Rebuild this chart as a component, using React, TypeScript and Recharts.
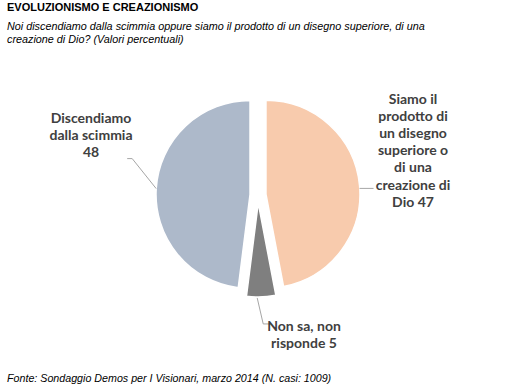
import React from 'react';
import { PieChart, Pie, Cell, Sector } from 'recharts';

const categories = [
  'Siamo il prodotto di un disegno superiore o di una creazione di Dio',
  'Non sa, non risponde',
  'Discendiamo dalla scimmia',
];
const values = [47, 5, 48];
const colors = ['#F8CBAD', '#7F7F7F', '#ADB9CA'];
const labelLines = [
  ['Siamo il', 'prodotto di', 'un disegno', 'superiore o', 'di una', 'creazione di', 'Dio 47'],
  ['Non sa, non', 'risponde 5'],
  ['Discendiamo', 'dalla scimmia', '48'],
];

const data = categories.map((name, i) => ({ name, value: values[i] }));

const RAD = Math.PI / 180;
const EXPLODE = 8;
const CX = 258;
const CY = 195;
const R = 94;
const LINE_H = 17.2;

const ExplodedSector = (props: any) => {
  const { cx, cy, midAngle } = props;
  const dx = EXPLODE * Math.cos(-midAngle * RAD);
  const dy = EXPLODE * Math.sin(-midAngle * RAD);
  return <Sector {...props} cx={cx + dx} cy={cy + dy} />;
};

const renderLabel = (props: any) => {
  const { cx, cy, midAngle, outerRadius, index } = props;
  const rr = outerRadius + EXPLODE;
  const ax = cx + rr * Math.cos(-midAngle * RAD);
  const ay = cy + rr * Math.sin(-midAngle * RAD);
  const lines = labelLines[index];
  let path = '';
  let tx = 0;
  let ty = 0;
  if (index === 0) {
    path = `M${ax},${ay + 3}L${ax + 14},${ay + 3}`;
    tx = cx + 155;
    ty = cy - 97;
  } else if (index === 1) {
    path = `M${ax - 4},${ay + 1}L${ax + 2},${ay + 27}L${ax + 8},${ay + 27}`;
    tx = cx + 46;
    ty = cy + 130;
  } else {
    path = `M${ax},${ay}L${ax - 24},${ay - 30}L${ax - 29},${ay - 30}`;
    tx = cx - 167;
    ty = cy - 78;
  }
  return (
    <g key={`lbl-${index}`}>
      <path d={path} stroke="#A6A6A6" strokeWidth={1} fill="none" />
      <text
        x={tx}
        y={ty}
        textAnchor="middle"
        fill="#404040"
        style={{ fontFamily: 'Lato, "Open Sans", sans-serif', fontWeight: 700, fontSize: 14 }}
      >
        {lines.map((l, i) => (
          <tspan key={i} x={tx} y={ty + i * LINE_H} dominantBaseline="central">
            {l}
          </tspan>
        ))}
      </text>
    </g>
  );
};

export default function App() {
  return (
    <div
      style={{
        position: 'absolute',
        left: 0,
        top: 0,
        width: 522,
        height: 391,
        background: '#fff',
        fontFamily: '"Liberation Sans", Arial, sans-serif',
      }}
    >
      <div
        style={{
          position: 'absolute',
          left: 7,
          top: 1,
          fontSize: 11,
          fontWeight: 700,
          color: '#000',
          lineHeight: '13px',
          whiteSpace: 'nowrap',
        }}
      >
        EVOLUZIONISMO E CREAZIONISMO
      </div>
      <div
        style={{
          position: 'absolute',
          left: 7,
          top: 20,
          width: 480,
          fontSize: 10.8,
          fontStyle: 'italic',
          color: '#000',
          lineHeight: '12.5px',
          whiteSpace: 'nowrap',
        }}
      >
        Noi discendiamo dalla scimmia oppure siamo il prodotto di un disegno superiore, di una
        <br />
        creazione di Dio? (Valori percentuali)
      </div>
      <div style={{ position: 'absolute', left: 0, top: 0 }}>
        <PieChart width={522} height={391} margin={{ top: 0, right: 0, bottom: 0, left: 0 }}>
          <Pie
            data={data}
            dataKey="value"
            nameKey="name"
            cx={CX}
            cy={CY}
            outerRadius={R}
            startAngle={90}
            endAngle={-270}
            stroke="#FFFFFF"
            strokeWidth={1.5}
            shape={ExplodedSector}
            label={renderLabel}
            labelLine={false}
            isAnimationActive={false}
          >
            {data.map((d, i) => (
              <Cell key={d.name} fill={colors[i]} />
            ))}
          </Pie>
        </PieChart>
      </div>
      <div
        style={{
          position: 'absolute',
          left: 7,
          top: 372,
          fontSize: 10.7,
          fontStyle: 'italic',
          color: '#000',
          lineHeight: '13px',
          whiteSpace: 'nowrap',
        }}
      >
        Fonte: Sondaggio Demos per I Visionari, marzo 2014 (N. casi: 1009)
      </div>
    </div>
  );
}
